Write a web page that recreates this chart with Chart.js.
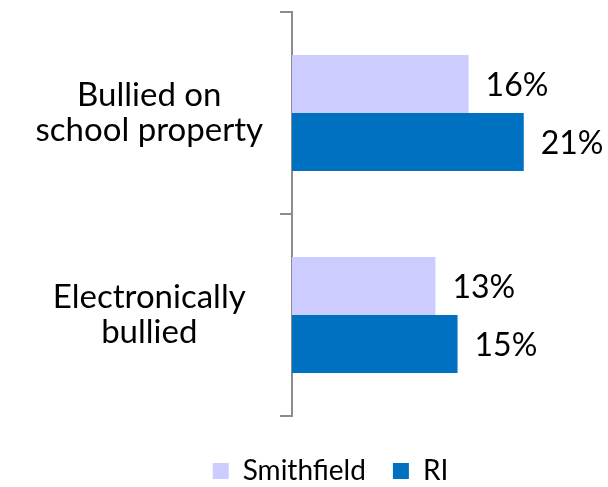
<!DOCTYPE html>
<html>
<head>
<meta charset="utf-8">
<script src="https://cdn.jsdelivr.net/npm/chart.js@4/dist/chart.umd.min.js"></script>
<style>
  html, body { margin: 0; padding: 0; background: #fff; }
  #wrap { width: 608px; height: 487px; }
</style>
</head>
<body>
<div id="wrap"><canvas id="chart" width="608" height="487"></canvas></div>
<script>
// Data
var categories = [["Bullied on", "school property"], ["Electronically", "bullied"]];
var smithfield = [16, 13];
var ri = [21, 15];
var seriesNames = ["Smithfield", "RI"];

var fontFamily = "Lato, 'Open Sans', sans-serif";

// draws the "16%" style labels at the end of each bar
var valueLabels = {
    id: "valueLabels",
    afterDatasetsDraw: function (chart) {
        var ctx = chart.ctx;
        ctx.save();
        ctx.font = "32px " + fontFamily;
        ctx.fillStyle = "#000";
        ctx.textAlign = "left";
        ctx.textBaseline = "middle";
        chart.data.datasets.forEach(function (ds, i) {
            var meta = chart.getDatasetMeta(i);
            meta.data.forEach(function (bar, j) {
                ctx.fillText(ds.data[j] + "%", bar.x + 17, bar.y + 2);
            });
        });
        ctx.restore();
    },
};

// nudge the legend a little right and down, like the original
var legendOffset = {
    id: "legendOffset",
    afterLayout: function (chart) {
        var lg = chart.legend;
        lg.left += 30;
        lg.right += 30;
        lg.top += 14;
        lg.bottom += 14;
    },
};

var ctx = document.getElementById("chart").getContext("2d");

var myChart = new Chart(ctx, {
    type: "bar",
    data: {
        labels: categories,
        datasets: [
            {
                label: seriesNames[0],
                data: smithfield,
                backgroundColor: "#ccccff",
            },
            {
                label: seriesNames[1],
                data: ri,
                backgroundColor: "#0070c0",
            },
        ],
    },
    options: {
        indexAxis: "y",
        responsive: false,
        animation: false,
        categoryPercentage: 0.574,
        barPercentage: 1,
        layout: {
            padding: { top: 12, right: 7, bottom: 6, left: 0 },
        },
        scales: {
            x: {
                display: false,
                min: 0,
                max: 28,
            },
            y: {
                afterFit: function (scale) {
                    scale.width = 292;
                    // the two-line labels shouldn't push the plot down
                    scale.paddingTop = 0;
                    scale.paddingBottom = 0;
                },
                border: { color: "#8c8c8c", width: 2 },
                grid: {
                    drawOnChartArea: false,
                    color: "#8c8c8c",
                    lineWidth: 2,
                    tickLength: 12,
                },
                ticks: {
                    crossAlign: "center",
                    padding: 17,
                    color: "#000",
                    font: { family: fontFamily, size: 33, lineHeight: 1.06 },
                },
            },
        },
        plugins: {
            legend: {
                position: "bottom",
                labels: {
                    boxWidth: 16,
                    boxHeight: 16,
                    padding: 27,
                    color: "#000",
                    font: { family: fontFamily, size: 28 },
                },
            },
            tooltip: { enabled: false },
        },
    },
    plugins: [valueLabels, legendOffset],
});
</script>
</body>
</html>
